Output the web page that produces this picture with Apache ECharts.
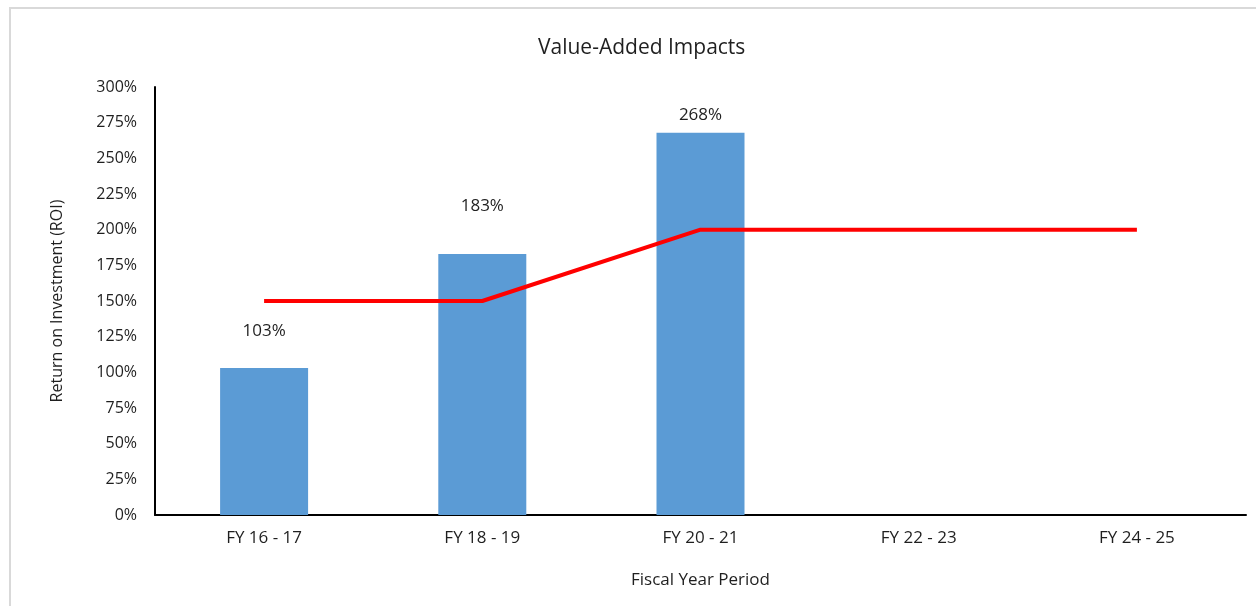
<!DOCTYPE html>
<html>
<head>
<meta charset="utf-8">
<script src="https://cdn.jsdelivr.net/npm/echarts@6/dist/echarts.min.js"></script>
<style>
  html, body { margin: 0; padding: 0; background: #fff; }
  #main { width: 1256px; height: 606px; }
  #frame { position: absolute; left: 9px; top: 7px; width: 1260px; height: 620px; border: 2px solid #d9d9d9; box-sizing: border-box; pointer-events: none; }
</style>
</head>
<body>
<div id="main"></div>
<div id="frame"></div>
<script>
// 财年
var periods = ['FY 16 - 17', 'FY 18 - 19', 'FY 20 - 21', 'FY 22 - 23', 'FY 24 - 25'];
// 实际 ROI (%)
var roiValues = [103, 183, 268];
// 目标线 (%)
var targetValues = [150, 150, 200, 200, 200];
// 标签距柱顶的距离
var labelLift = [38, 49, 19];

var textColor = '#1f1f1f';
var font = 'Open Sans';

var chart = echarts.init(document.getElementById('main'));
chart.setOption({
  animation: false,
  title: {
    text: 'Value-Added Impacts',
    left: 533,
    top: 33,
    textStyle: { fontFamily: font, fontSize: 21, fontWeight: 'normal', color: textColor }
  },
  grid: { left: 155, right: 10, top: 87, bottom: 91 },
  xAxis: {
    type: 'category',
    data: periods,
    name: 'Fiscal Year Period',
    nameLocation: 'middle',
    nameGap: 57,
    nameTextStyle: { fontFamily: font, fontSize: 17, color: textColor },
    axisLine: { lineStyle: { color: '#000', width: 2 } },
    axisTick: { show: false },
    axisLabel: { fontFamily: font, fontSize: 17, color: textColor, margin: 15 }
  },
  yAxis: {
    type: 'value',
    min: 0,
    max: 300,
    interval: 25,
    name: 'Return on Investment (ROI)',
    nameLocation: 'middle',
    nameGap: 90,
    nameTextStyle: { fontFamily: font, fontSize: 16, color: textColor },
    axisLine: { show: true, lineStyle: { color: '#000', width: 2 } },
    axisTick: { show: false },
    splitLine: { show: false },
    axisLabel: { fontFamily: font, fontSize: 16, color: textColor, margin: 18, formatter: '{value}%' }
  },
  series: [
    {
      name: 'ROI',
      type: 'bar',
      barWidth: 88,
      itemStyle: { color: '#5B9BD5' },
      data: roiValues.map(function (v, i) {
        return {
          value: v,
          label: {
            show: true,
            position: 'top',
            distance: labelLift[i] - 10,
            formatter: '{c}%',
            fontFamily: font,
            fontSize: 17,
            color: textColor
          }
        };
      })
    },
    {
      name: 'Target',
      type: 'line',
      symbol: 'none',
      lineStyle: { color: '#FF0000', width: 4 },
      z: 3,
      data: targetValues
    }
  ]
});
</script>
</body>
</html>
